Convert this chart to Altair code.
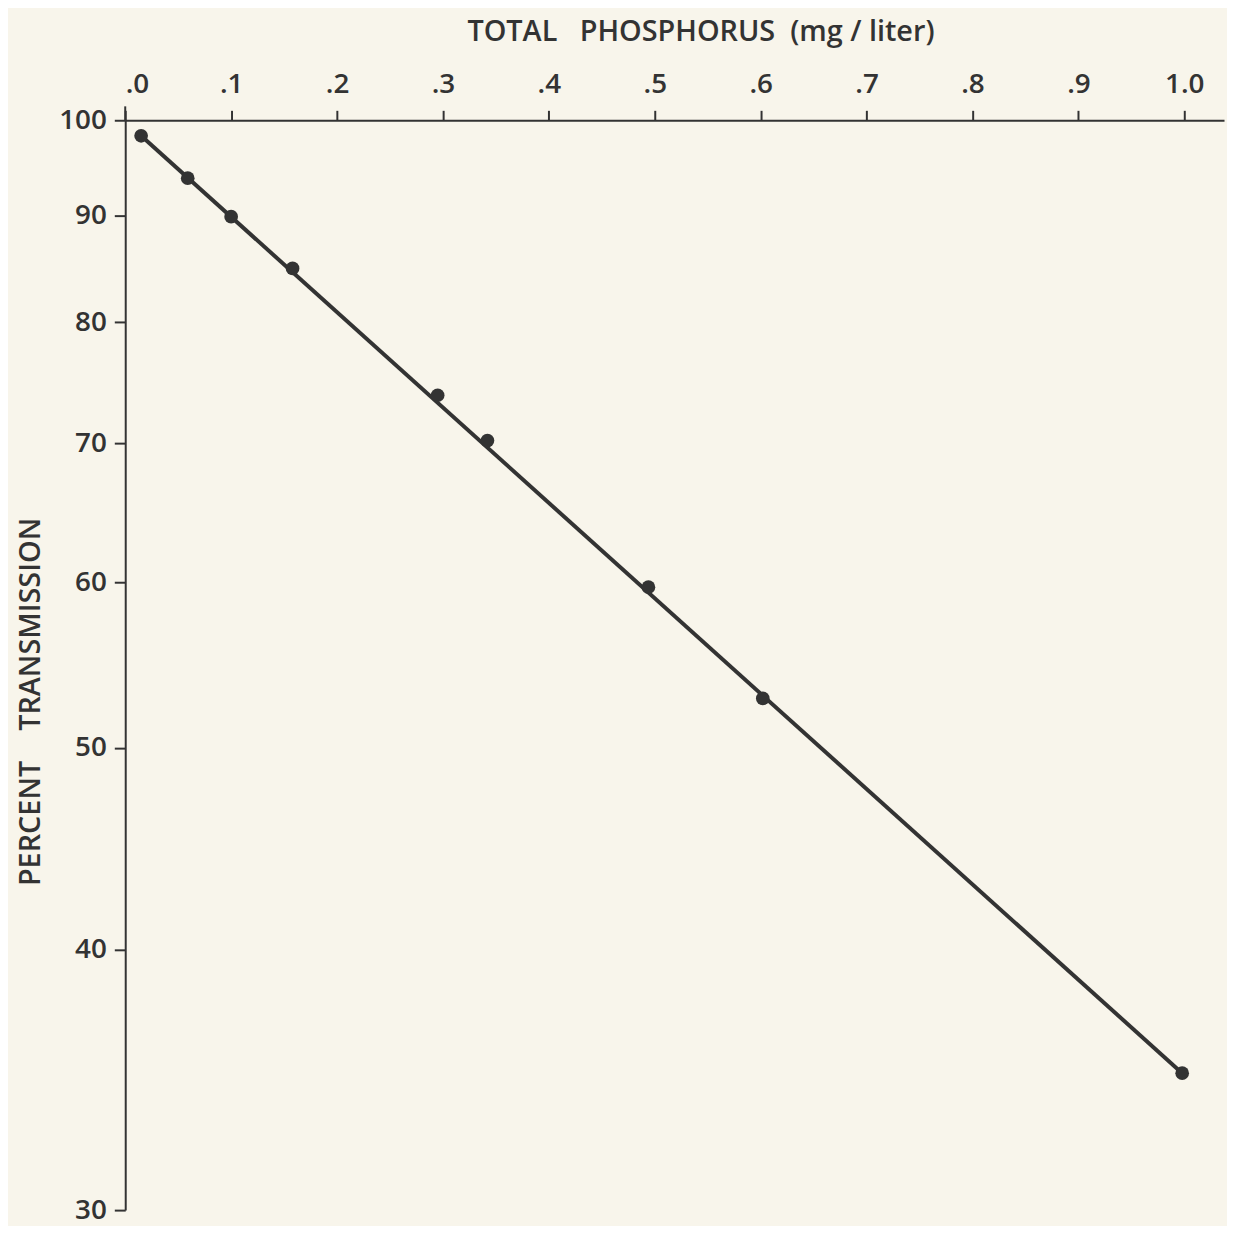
import altair as alt
import pandas as pd

# Data
phosphorus = [0.015, 0.059, 0.100, 0.158, 0.295, 0.342, 0.494, 0.602, 0.998]
transmission = [98.3, 93.8, 89.9, 84.9, 73.8, 70.2, 59.7, 52.8, 34.9]

# fitted line end points
line_x = [0.015, 0.998]
line_y = [98.3, 34.9]

x_ticks = [0.0, 0.1, 0.2, 0.3, 0.4, 0.5, 0.6, 0.7, 0.8, 0.9, 1.0]
y_ticks = [30, 40, 50, 60, 70, 80, 90, 100]

pts = pd.DataFrame({"x": phosphorus, "y": transmission})
fit = pd.DataFrame({"x": line_x, "y": line_y})

INK = "#333333"
BG = "#f8f5eb"
FONT = "Open Sans"
NB = "\u00a0"

W, H = 1106, 1097

xscale = alt.Scale(domain=[0, 1.0375], nice=False, zero=False)
yscale = alt.Scale(type="log", domain=[30, 100], nice=False)

xaxis = alt.Axis(
    orient="top", values=x_ticks, grid=False,
    labelExpr="datum.value >= 1 ? '1.0' : replace(format(datum.value, '.1f'), '0.', '.')",
    labelFont=FONT, labelFontSize=28, labelFontWeight=600, labelColor=INK, labelPadding=12,
    tickSize=10, tickWidth=2, tickColor=INK, domainColor=INK, domainWidth=2,
    title=f"TOTAL{NB}{NB}{NB}PHOSPHORUS{NB}{NB}(mg / liter)", titleFont=FONT, titleFontSize=29,
    titleFontWeight=600, titleColor=INK, titleX=579, titleY=-80,
    titleAlign="center", titleBaseline="alphabetic", titleAngle=0,
)
yaxis = alt.Axis(
    orient="left", values=y_ticks, grid=False, format="d",
    labelFont=FONT, labelFontSize=28, labelFontWeight=600, labelColor=INK, labelPadding=8,
    labelBaseline="middle",
    tickSize=11, tickWidth=2, tickColor=INK, domainColor=INK, domainWidth=2,
    title=f"PERCENT{NB}{NB}{NB}{NB}TRANSMISSION", titleFont=FONT, titleFontSize=29,
    titleFontWeight=600, titleColor=INK, titleX=-86, titleY=585,
    titleAlign="center", titleBaseline="alphabetic", titleAngle=270,
)

line = alt.Chart(fit).mark_line(color=INK, strokeWidth=4).encode(
    x=alt.X("x:Q", scale=xscale, axis=xaxis),
    y=alt.Y("y:Q", scale=yscale, axis=yaxis),
)
points = alt.Chart(pts).mark_circle(color=INK, opacity=1, size=190).encode(
    x=alt.X("x:Q", scale=xscale),
    y=alt.Y("y:Q", scale=yscale),
)
stub = alt.Chart(pd.DataFrame({"a": [0]})).mark_rule(color=INK, strokeWidth=2).encode(
    x=alt.value(0), y=alt.value(-14), y2=alt.value(0)
)

chart = alt.layer(line, points, stub).properties(
    width=W, height=H,
    autosize=alt.AutoSizeParams(type="none"),
    padding={"left": 118, "top": 109, "right": 3, "bottom": 12},
    background=BG,
).configure_view(stroke=None)

chart.save("out.html", embed_options={"renderer": "svg", "actions": False})
